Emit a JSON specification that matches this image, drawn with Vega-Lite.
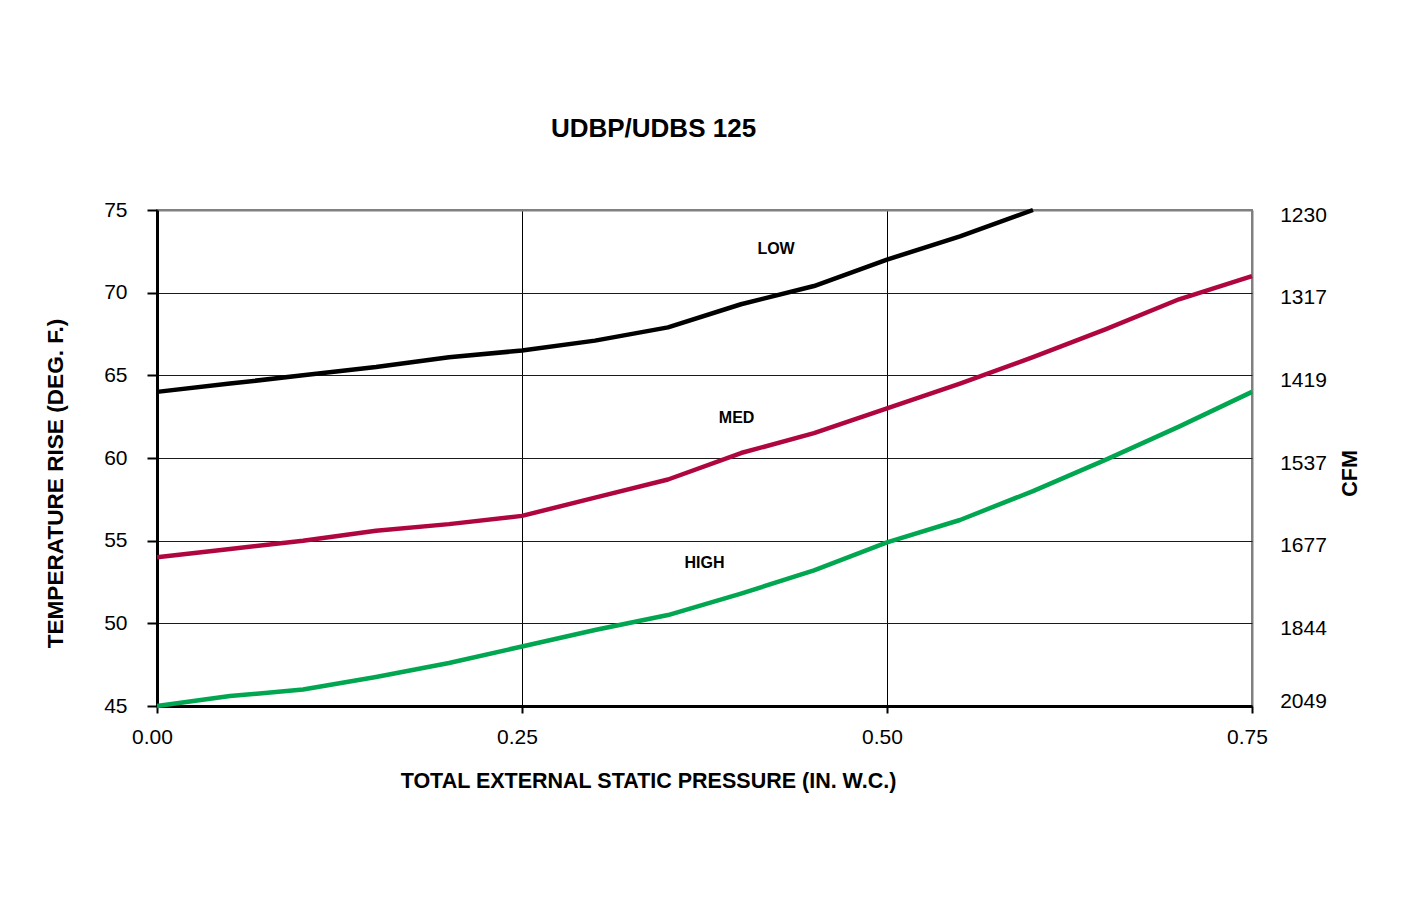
{
  "$schema": "https://vega.github.io/schema/vega-lite/v6.json",
  "autosize": "none",
  "width": 1095,
  "height": 496,
  "padding": {"left": 157, "top": 210, "right": 149, "bottom": 210},
  "background": "white",
  "config": {
    "font": "Liberation Sans",
    "view": {"stroke": "#808080", "strokeWidth": 2}
  },
  "title": {
    "text": "UDBP/UDBS 125",
    "font": "Liberation Sans",
    "fontSize": 26,
    "fontWeight": "bold",
    "color": "#000000",
    "anchor": "middle",
    "dx": -51,
    "offset": 57
  },
  "datasets": {
    "curves": [
      {"pressure": 0.00, "rise": 64.0, "speed": "LOW"},
      {"pressure": 0.05, "rise": 64.5, "speed": "LOW"},
      {"pressure": 0.10, "rise": 65.0, "speed": "LOW"},
      {"pressure": 0.15, "rise": 65.5, "speed": "LOW"},
      {"pressure": 0.20, "rise": 66.1, "speed": "LOW"},
      {"pressure": 0.25, "rise": 66.5, "speed": "LOW"},
      {"pressure": 0.30, "rise": 67.1, "speed": "LOW"},
      {"pressure": 0.35, "rise": 67.9, "speed": "LOW"},
      {"pressure": 0.40, "rise": 69.3, "speed": "LOW"},
      {"pressure": 0.45, "rise": 70.4, "speed": "LOW"},
      {"pressure": 0.50, "rise": 72.0, "speed": "LOW"},
      {"pressure": 0.55, "rise": 73.4, "speed": "LOW"},
      {"pressure": 0.60, "rise": 75.0, "speed": "LOW"},
      {"pressure": 0.00, "rise": 54.0, "speed": "MED"},
      {"pressure": 0.05, "rise": 54.5, "speed": "MED"},
      {"pressure": 0.10, "rise": 55.0, "speed": "MED"},
      {"pressure": 0.15, "rise": 55.6, "speed": "MED"},
      {"pressure": 0.20, "rise": 56.0, "speed": "MED"},
      {"pressure": 0.25, "rise": 56.5, "speed": "MED"},
      {"pressure": 0.30, "rise": 57.6, "speed": "MED"},
      {"pressure": 0.35, "rise": 58.7, "speed": "MED"},
      {"pressure": 0.40, "rise": 60.3, "speed": "MED"},
      {"pressure": 0.45, "rise": 61.5, "speed": "MED"},
      {"pressure": 0.50, "rise": 63.0, "speed": "MED"},
      {"pressure": 0.55, "rise": 64.5, "speed": "MED"},
      {"pressure": 0.60, "rise": 66.1, "speed": "MED"},
      {"pressure": 0.65, "rise": 67.8, "speed": "MED"},
      {"pressure": 0.70, "rise": 69.6, "speed": "MED"},
      {"pressure": 0.75, "rise": 71.0, "speed": "MED"},
      {"pressure": 0.00, "rise": 45.0, "speed": "HIGH"},
      {"pressure": 0.05, "rise": 45.6, "speed": "HIGH"},
      {"pressure": 0.10, "rise": 46.0, "speed": "HIGH"},
      {"pressure": 0.15, "rise": 46.75, "speed": "HIGH"},
      {"pressure": 0.20, "rise": 47.6, "speed": "HIGH"},
      {"pressure": 0.25, "rise": 48.6, "speed": "HIGH"},
      {"pressure": 0.30, "rise": 49.6, "speed": "HIGH"},
      {"pressure": 0.35, "rise": 50.5, "speed": "HIGH"},
      {"pressure": 0.40, "rise": 51.8, "speed": "HIGH"},
      {"pressure": 0.45, "rise": 53.2, "speed": "HIGH"},
      {"pressure": 0.50, "rise": 54.9, "speed": "HIGH"},
      {"pressure": 0.55, "rise": 56.25, "speed": "HIGH"},
      {"pressure": 0.60, "rise": 58.0, "speed": "HIGH"},
      {"pressure": 0.65, "rise": 59.9, "speed": "HIGH"},
      {"pressure": 0.70, "rise": 61.9, "speed": "HIGH"},
      {"pressure": 0.75, "rise": 64.0, "speed": "HIGH"}
    ],
    "labels": [
      {"pressure": 0.424, "rise": 72.64, "speed": "LOW"},
      {"pressure": 0.397, "rise": 62.42, "speed": "MED"},
      {"pressure": 0.375, "rise": 53.65, "speed": "HIGH"}
    ]
  },
  "resolve": {"axis": {"y": "independent"}},
  "layer": [
    {
      "data": {"name": "curves"},
      "mark": {"type": "line", "strokeWidth": 4.5, "strokeJoin": "round"},
      "encoding": {
        "x": {
          "field": "pressure",
          "type": "quantitative",
          "scale": {"domain": [0, 0.75], "nice": false, "zero": false},
          "axis": {
            "title": "TOTAL EXTERNAL STATIC PRESSURE (IN. W.C.)",
            "values": [0, 0.25, 0.5, 0.75],
            "format": ".2f",
            "labelFont": "Liberation Sans",
            "labelFontSize": 21,
            "labelColor": "#000000",
            "labelPadding": 13,
            "labelFlush": false,
            "labelOffset": -5,
            "tickSize": 7,
            "tickWidth": 2,
            "tickColor": "#000000",
            "domainColor": "#000000",
            "domainWidth": 3,
            "grid": true,
            "gridColor": {"condition": {"test": "datum.value >= 0.74", "value": "#808080"}, "value": "#000000"},
            "gridWidth": {"condition": {"test": "datum.value >= 0.74", "value": 2}, "value": 1},
            "gridOpacity": 1,
            "titleFont": "Liberation Sans",
            "titleFontSize": 21.5,
            "titleFontWeight": "bold",
            "titleColor": "#000000",
            "titleX": 491,
            "titleY": 75,
            "titleBaseline": "middle"
          }
        },
        "y": {
          "field": "rise",
          "type": "quantitative",
          "scale": {"domain": [45, 75], "nice": false, "zero": false},
          "axis": {
            "orient": "left",
            "title": "TEMPERATURE RISE (DEG. F.)",
            "values": [45, 50, 55, 60, 65, 70, 75],
            "labelFont": "Liberation Sans",
            "labelFontSize": 21,
            "labelColor": "#000000",
            "labelPadding": 20,
            "labelFlush": false,
            "tickSize": 10,
            "tickWidth": 2,
            "tickColor": "#000000",
            "domainColor": "#000000",
            "domainWidth": 3,
            "grid": true,
            "gridColor": {"condition": {"test": "datum.value >= 74.9", "value": "#808080"}, "value": "#1a1a1a"},
            "gridWidth": {"condition": {"test": "datum.value >= 74.9", "value": 2}, "value": 1},
            "gridOpacity": 1,
            "titleFont": "Liberation Sans",
            "titleFontSize": 22.6,
            "titleFontWeight": "bold",
            "titleColor": "#000000",
            "titleAngle": -90,
            "titleX": -102,
            "titleY": 273,
            "titleBaseline": "middle"
          }
        },
        "color": {
          "field": "speed",
          "type": "nominal",
          "scale": {"domain": ["LOW", "MED", "HIGH"], "range": ["#000000", "#B0063F", "#00A650"]},
          "legend": null
        },
        "detail": {"field": "speed"}
      }
    },
    {
      "data": {"name": "labels"},
      "mark": {"type": "text", "font": "Liberation Sans", "fontSize": 16, "fontWeight": "bold", "color": "#000000", "align": "center", "baseline": "middle"},
      "encoding": {
        "x": {"field": "pressure", "type": "quantitative", "scale": {"domain": [0, 0.75], "nice": false, "zero": false}},
        "y": {
          "field": "rise",
          "type": "quantitative",
          "scale": {"domain": [45, 75], "nice": false, "zero": false},
          "axis": {
            "orient": "right",
            "title": "CFM",
            "values": [45, 50, 55, 60, 65, 70, 75],
            "labelExpr": "datum.value == 75 ? '1230' : datum.value == 70 ? '1317' : datum.value == 65 ? '1419' : datum.value == 60 ? '1537' : datum.value == 55 ? '1677' : datum.value == 50 ? '1844' : '2049'",
            "labelFont": "Liberation Sans",
            "labelFontSize": 21,
            "labelColor": "#000000",
            "labelAlign": "center",
            "labelPadding": 51,
            "labelFlush": false,
            "labelOffset": {"condition": {"test": "datum.value <= 45.1", "value": -5}, "value": 5},
            "ticks": false,
            "tickSize": 0,
            "domain": false,
            "grid": false,
            "titleFont": "Liberation Sans",
            "titleFontSize": 21.5,
            "titleFontWeight": "bold",
            "titleColor": "#000000",
            "titleAngle": -90,
            "titleX": 98,
            "titleY": 263,
            "titleBaseline": "middle"
          }
        },
        "text": {"field": "speed", "type": "nominal"}
      }
    }
  ]
}
